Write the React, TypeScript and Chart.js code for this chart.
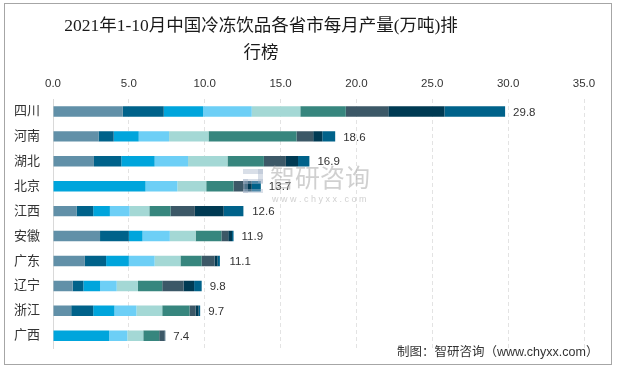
import React, { useEffect, useRef } from "react";
import { Chart, registerables } from "chart.js";

Chart.register(...registerables);

const provinces = ["四川", "河南", "湖北", "北京", "江西", "安徽", "广东", "辽宁", "浙江", "广西"];
const monthNames = ["1-2月", "3月", "4月", "5月", "6月", "7月", "8月", "9月", "10月"];

const m1_2 = [4.6, 3.0, 2.7, 0, 1.55, 3.1, 2.1, 1.3, 1.2, 0];
const m3 = [2.7, 1.0, 1.8, 0, 1.1, 1.9, 1.4, 0.7, 1.45, 0];
const m4 = [2.6, 1.65, 2.2, 6.1, 1.1, 0.9, 1.5, 1.1, 1.4, 3.7];
const m5 = [3.2, 2.0, 2.2, 2.1, 1.3, 1.8, 1.7, 1.1, 1.45, 1.2];
const m6 = [3.2, 2.6, 2.6, 1.9, 1.3, 1.7, 1.7, 1.4, 1.7, 1.05];
const m7 = [3.0, 5.8, 2.4, 1.8, 1.4, 1.7, 1.4, 1.6, 1.8, 1.05];
const m8 = [2.8, 1.1, 1.45, 0.7, 1.6, 0.45, 0.85, 1.4, 0.4, 0.35];
const m9 = [3.7, 0.6, 0.8, 0.5, 1.9, 0.25, 0.2, 0.7, 0.2, 0.05];
const m10 = [4.0, 0.85, 0.75, 0.6, 1.3, 0.1, 0.15, 0.5, 0.1, 0];

const totals = [29.8, 18.6, 16.9, 13.7, 12.6, 11.9, 11.1, 9.8, 9.7, 7.4];
const xTicks = [0, 5, 10, 15, 20, 25, 30, 35];

const seriesValues = [m1_2, m3, m4, m5, m6, m7, m8, m9, m10];
const colors = ["#6190a8", "#00628a", "#00a5dc", "#6dcff6", "#a4d8d5", "#37867e", "#3c5867", "#003a53", "#00628a"];

const titleLines = ["2021年1-10月中国冷冻饮品各省市每月产量(万吨)排", "行榜"];
const footer = "制图：智研咨询（www.chyxx.com）";

const SANS = '"Liberation Sans", "Noto Sans CJK SC", sans-serif';
const SERIF = '"Liberation Serif", "Noto Sans CJK SC", serif';

const decorPlugin = {
  id: "decor",
  afterDraw(chart: any) {
    const ctx = chart.ctx;
    const xs = chart.scales.x;
    const ys = chart.scales.y;
    ctx.save();
    // value labels
    ctx.font = "11.5px " + SANS;
    ctx.fillStyle = "#333333";
    ctx.textAlign = "left";
    ctx.textBaseline = "middle";
    totals.forEach((t, i) => {
      const x = xs.getPixelForValue(t);
      const y = ys.getPixelForValue(i);
      ctx.fillText(t.toFixed(1), x + 8, y + 1);
    });
    // watermark
    ctx.fillStyle = "rgba(170,170,170,0.55)";
    ctx.font = "25px " + SANS;
    ctx.textBaseline = "middle";
    ctx.fillText("智研咨询", 270, 180);
    ctx.font = "9px " + SANS;
    ctx.fillText("w w w . c h y x x . c o m", 272, 200);
    ctx.fillStyle = "rgba(170,185,205,0.45)";
    ctx.fillRect(243, 169, 20, 5);
    ctx.fillRect(258, 169, 5, 14);
    ctx.fillRect(243, 179, 20, 5);
    ctx.fillRect(243, 179, 5, 14);
    ctx.fillRect(243, 189, 20, 4);
    // title
    ctx.fillStyle = "#1a1a1a";
    ctx.font = "17.5px " + SERIF;
    ctx.textAlign = "center";
    ctx.fillText(titleLines[0], 261, 26);
    ctx.fillText(titleLines[1], 261, 53);
    // footer
    ctx.font = "12.5px " + SANS;
    ctx.fillStyle = "#333333";
    ctx.textAlign = "left";
    ctx.fillText(footer, 397, 353);
    // border
    ctx.strokeStyle = "#a6a6a6";
    ctx.lineWidth = 1;
    ctx.strokeRect(4.5, 3.5, 607, 361);
    ctx.restore();
  },
};

export default function App() {
  const ref = useRef<HTMLCanvasElement | null>(null);
  useEffect(() => {
    if (!ref.current) return;
    const chart = new Chart(ref.current, {
      type: "bar",
      data: {
        labels: provinces,
        datasets: seriesValues.map((vals, i) => ({
          label: monthNames[i],
          data: vals,
          backgroundColor: colors[i],
          borderWidth: 0,
          barPercentage: 0.42,
          categoryPercentage: 1,
        })),
      },
      options: {
        indexAxis: "y",
        responsive: false,
        animation: false,
        layout: { padding: { left: 0, right: 33, top: 79, bottom: 17 } },
        plugins: {
          legend: { display: false },
          title: { display: false },
          tooltip: { enabled: false },
        },
        scales: {
          x: {
            position: "top",
            stacked: true,
            min: 0,
            max: 35,
            afterFit: (s: any) => {
              s.height = 20;
            },
            afterBuildTicks: (s: any) => {
              s.ticks = xTicks.map((v) => ({ value: v }));
            },
            ticks: {
              padding: 8,
              color: "#333333",
              font: { size: 11.5, family: SANS },
              callback: (v: any) => Number(v).toFixed(1),
            },
            grid: { color: "#e3e3e3", drawTicks: false },
            border: { display: false, dash: [4, 3] },
          },
          y: {
            stacked: true,
            afterFit: (s: any) => {
              s.width = 53;
            },
            ticks: {
              padding: 13,
              color: "#333333",
              font: { size: 13, family: SANS },
            },
            grid: { display: false, drawTicks: false },
            border: { display: true, color: "#d9d9d9" },
          },
        },
      },
      plugins: [decorPlugin],
    });
    return () => chart.destroy();
  }, []);
  return (
    <div style={{ position: "absolute", left: 0, top: 0, width: 617, height: 369, background: "#fff" }}>
      <canvas ref={ref} width={617} height={369} style={{ display: "block" }} />
    </div>
  );
}
